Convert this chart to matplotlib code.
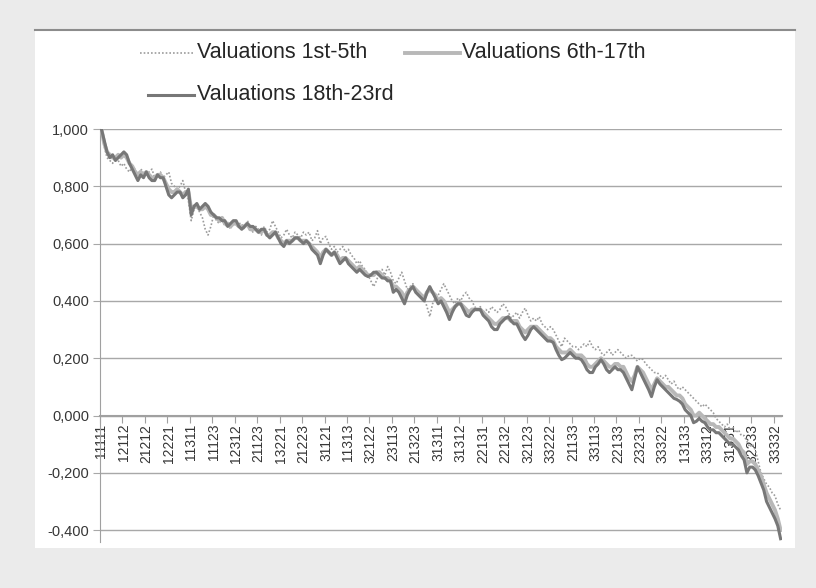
import matplotlib
matplotlib.use('Agg')
import matplotlib.pyplot as plt
from matplotlib.lines import Line2D
from matplotlib.patches import Rectangle
import numpy as np

plt.rcParams['font.family'] = ['Liberation Sans', 'DejaVu Sans']

# series values, one per category (243 combinations, sorted)
val_1_5 = [
    1.00, 0.94, 0.90, 0.89, 0.88, 0.90, 0.89, 0.87, 0.88, 0.86,
    0.85, 0.87, 0.86, 0.84, 0.86, 0.85, 0.84, 0.85, 0.86, 0.83,
    0.84, 0.85, 0.83, 0.84, 0.85, 0.81, 0.80, 0.79, 0.80, 0.82,
    0.78, 0.75, 0.68, 0.72, 0.73, 0.71, 0.69, 0.65, 0.63, 0.66,
    0.70, 0.68, 0.67, 0.69, 0.66, 0.67, 0.65, 0.68, 0.66, 0.67,
    0.67, 0.65, 0.68, 0.66, 0.64, 0.66, 0.65, 0.63, 0.66, 0.64,
    0.65, 0.68, 0.66, 0.64, 0.62, 0.63, 0.65, 0.63, 0.62, 0.64,
    0.63, 0.62, 0.64, 0.63, 0.64, 0.61, 0.62, 0.645, 0.60, 0.62,
    0.625, 0.60, 0.58, 0.59, 0.57, 0.58, 0.59, 0.57, 0.58, 0.56,
    0.55, 0.53, 0.54, 0.52, 0.51, 0.49, 0.47, 0.45, 0.47, 0.50,
    0.51, 0.49, 0.52, 0.50, 0.47, 0.46, 0.48, 0.50, 0.47, 0.44,
    0.45, 0.46, 0.44, 0.43, 0.42, 0.41, 0.38, 0.345, 0.39, 0.41,
    0.42, 0.44, 0.46, 0.44, 0.42, 0.40, 0.39, 0.41, 0.40, 0.42,
    0.43, 0.41, 0.40, 0.38, 0.37, 0.38, 0.36, 0.37, 0.36, 0.38,
    0.37, 0.36, 0.37, 0.39, 0.38, 0.36, 0.34, 0.35, 0.36, 0.34,
    0.36, 0.375, 0.35, 0.33, 0.34, 0.33, 0.345, 0.32, 0.31, 0.30,
    0.31, 0.30, 0.28, 0.26, 0.24, 0.27, 0.26, 0.25, 0.24, 0.24,
    0.23, 0.24, 0.25, 0.24, 0.26, 0.24, 0.23, 0.24, 0.22, 0.21,
    0.22, 0.23, 0.21, 0.22, 0.23, 0.22, 0.21, 0.20, 0.21, 0.21,
    0.20, 0.19, 0.20, 0.195, 0.18, 0.17, 0.16, 0.15, 0.15, 0.14,
    0.13, 0.14, 0.125, 0.11, 0.12, 0.10, 0.09, 0.10, 0.09, 0.08,
    0.07, 0.06, 0.05, 0.04, 0.03, 0.04, 0.03, 0.02, 0.01, -0.01,
    -0.02, -0.03, -0.04, -0.03, -0.05, -0.04, -0.06, -0.05, -0.07, -0.07,
    -0.09, -0.11, -0.10, -0.12, -0.16, -0.20, -0.22, -0.24, -0.25, -0.27,
    -0.28, -0.31, -0.33,
]

val_6_17 = [
    1.00, 0.95, 0.92, 0.91, 0.90, 0.90, 0.91, 0.90, 0.91, 0.90,
    0.88, 0.87, 0.85, 0.84, 0.85, 0.84, 0.85, 0.84, 0.83, 0.83,
    0.84, 0.84, 0.83, 0.81, 0.79, 0.78, 0.78, 0.79, 0.78, 0.77,
    0.78, 0.78, 0.72, 0.73, 0.73, 0.72, 0.72, 0.73, 0.72, 0.70,
    0.70, 0.69, 0.68, 0.69, 0.67, 0.67, 0.66, 0.67, 0.67, 0.66,
    0.66, 0.66, 0.67, 0.65, 0.65, 0.65, 0.64, 0.64, 0.65, 0.63,
    0.63, 0.64, 0.64, 0.62, 0.61, 0.60, 0.61, 0.61, 0.61, 0.62,
    0.62, 0.61, 0.61, 0.61, 0.60, 0.59, 0.58, 0.57, 0.55, 0.57,
    0.58, 0.57, 0.56, 0.57, 0.56, 0.54, 0.55, 0.55, 0.54, 0.53,
    0.52, 0.51, 0.52, 0.51, 0.50, 0.49, 0.49, 0.49, 0.50, 0.50,
    0.49, 0.48, 0.48, 0.47, 0.45, 0.45, 0.44, 0.43, 0.41, 0.43,
    0.44, 0.45, 0.44, 0.43, 0.42, 0.41, 0.43, 0.44, 0.43, 0.42,
    0.40, 0.41, 0.40, 0.38, 0.36, 0.37, 0.38, 0.39, 0.39, 0.38,
    0.37, 0.36, 0.37, 0.37, 0.37, 0.37, 0.36, 0.35, 0.34, 0.33,
    0.32, 0.32, 0.33, 0.34, 0.34, 0.34, 0.33, 0.33, 0.33, 0.31,
    0.30, 0.29, 0.30, 0.31, 0.31, 0.31, 0.30, 0.29, 0.28, 0.27,
    0.27, 0.26, 0.24, 0.23, 0.22, 0.22, 0.22, 0.23, 0.22, 0.21,
    0.21, 0.21, 0.20, 0.18, 0.17, 0.17, 0.18, 0.19, 0.20, 0.19,
    0.18, 0.17, 0.17, 0.18, 0.18, 0.17, 0.17, 0.15, 0.13, 0.12,
    0.14, 0.17, 0.16, 0.15, 0.13, 0.11, 0.09, 0.11, 0.13, 0.12,
    0.11, 0.10, 0.10, 0.09, 0.08, 0.07, 0.07, 0.06, 0.04, 0.03,
    0.02, 0.00, 0.00, 0.01, 0.00, -0.01, -0.02, -0.03, -0.03, -0.04,
    -0.04, -0.05, -0.06, -0.07, -0.08, -0.08, -0.09, -0.10, -0.12, -0.13,
    -0.17, -0.16, -0.16, -0.17, -0.19, -0.21, -0.24, -0.27, -0.29, -0.31,
    -0.33, -0.36, -0.40,
]

val_18_23 = [
    1.00, 0.96, 0.92, 0.90, 0.91, 0.89, 0.90, 0.91, 0.92, 0.91,
    0.88, 0.86, 0.84, 0.82, 0.84, 0.83, 0.85, 0.83, 0.82, 0.82,
    0.84, 0.83, 0.83, 0.80, 0.77, 0.76, 0.77, 0.78, 0.78, 0.76,
    0.77, 0.79, 0.70, 0.73, 0.74, 0.72, 0.73, 0.74, 0.73, 0.71,
    0.70, 0.69, 0.69, 0.68, 0.68, 0.66, 0.67, 0.68, 0.68, 0.66,
    0.65, 0.66, 0.67, 0.66, 0.66, 0.65, 0.64, 0.65, 0.65, 0.63,
    0.62, 0.63, 0.64, 0.62, 0.60, 0.59, 0.61, 0.60, 0.61, 0.62,
    0.62, 0.61, 0.60, 0.61, 0.60, 0.58, 0.57, 0.56, 0.53, 0.56,
    0.58, 0.57, 0.56, 0.57, 0.55, 0.53, 0.54, 0.55, 0.53, 0.52,
    0.51, 0.50, 0.51, 0.50, 0.49, 0.485, 0.49, 0.50, 0.50, 0.49,
    0.48, 0.48, 0.47, 0.47, 0.43, 0.44, 0.43, 0.41, 0.39, 0.42,
    0.44, 0.45, 0.43, 0.42, 0.41, 0.40, 0.43, 0.45, 0.43, 0.41,
    0.39, 0.40, 0.38, 0.36, 0.335, 0.36, 0.38, 0.39, 0.39, 0.37,
    0.35, 0.345, 0.36, 0.37, 0.37, 0.37, 0.35, 0.34, 0.33, 0.31,
    0.30, 0.30, 0.32, 0.33, 0.34, 0.345, 0.33, 0.32, 0.32, 0.30,
    0.28, 0.265, 0.28, 0.30, 0.31, 0.30, 0.29, 0.28, 0.27, 0.26,
    0.26, 0.255, 0.23, 0.21, 0.195, 0.20, 0.21, 0.22, 0.21, 0.20,
    0.20, 0.195, 0.18, 0.16, 0.15, 0.15, 0.17, 0.18, 0.195, 0.18,
    0.16, 0.15, 0.16, 0.17, 0.16, 0.16, 0.15, 0.13, 0.11, 0.09,
    0.13, 0.17, 0.15, 0.13, 0.11, 0.09, 0.066, 0.10, 0.125, 0.11,
    0.10, 0.09, 0.08, 0.07, 0.06, 0.056, 0.05, 0.04, 0.02, 0.01,
    0.00, -0.025, -0.02, -0.01, -0.02, -0.025, -0.04, -0.05, -0.05, -0.06,
    -0.06, -0.07, -0.08, -0.09, -0.10, -0.10, -0.11, -0.12, -0.14, -0.155,
    -0.20, -0.18, -0.18, -0.19, -0.21, -0.235, -0.26, -0.30, -0.32, -0.34,
    -0.36, -0.385, -0.43,
]

# every 8th category is labelled
tick_labels = ['11111', '12112', '21212', '12221', '11311', '11123', '12312',
               '21123', '13221', '21223', '31121', '11313', '32122', '23113',
               '21323', '31311', '31312', '22131', '22132', '32123', '33222',
               '21133', '33113', '22133', '23231', '33322', '13133', '33312',
               '31331', '32233', '33332']
label_step = 8

y_ticks = [-0.4, -0.2, 0.0, 0.2, 0.4, 0.6, 0.8, 1.0]
y_labels = ['-0,400', '-0,200', '0,000', '0,200', '0,400', '0,600', '0,800', '1,000']

W, H = 816, 588
fig = plt.figure(figsize=(W / 100, H / 100), dpi=100, facecolor='#ebebeb')

# white chart panel and the dark rule at its top
fig.patches.append(Rectangle((35 / W, 1 - 548 / H), 760 / W, 518 / H,
                             transform=fig.transFigure, facecolor='white',
                             edgecolor='none', zorder=-10))
fig.lines.append(Line2D([35 / W, 795 / W], [1 - 29.5 / H] * 2,
                        transform=fig.transFigure, color='#8c8c8c', lw=1.5))

ax = fig.add_axes([100 / W, 1 - 541.6 / H, 682 / W, 412.6 / H], zorder=5)
ax.set_facecolor('none')

n = len(val_18_23)
x = np.arange(n)
c1, c2, c3 = '#9c9c9c', '#b8b8b8', '#777777'
ax.plot(x, val_1_5, color=c1, lw=1.2, ls=(0, (1, 1.2)), zorder=3)
ax.plot(x, val_6_17, color=c2, lw=2.8, zorder=4)
ax.plot(x, val_18_23, color=c3, lw=2.2, zorder=5)

ax.set_xlim(-0.5, n - 0.5)
ax.set_ylim(-0.44, 1.0)

ax.set_yticks(y_ticks)
ax.set_yticklabels(y_labels)
ax.yaxis.grid(True, color='#a8a8a8', lw=1.0)
ax.set_axisbelow(True)
ax.tick_params(axis='y', length=5, color='#a8a8a8', labelsize=10.5,
               labelcolor='#363636', pad=3)

# x axis crosses at zero, labels on categories, tick marks between
ax.spines['bottom'].set_position(('data', 0))
ax.spines['bottom'].set_color('#a0a0a0')
ax.spines['bottom'].set_linewidth(1.5)
ax.spines['left'].set_color('#a0a0a0')
ax.spines['top'].set_visible(False)
ax.spines['right'].set_visible(False)

ax.set_xticks(np.arange(0, n, label_step) - 0.5)
ax.set_xticklabels([])
ax.tick_params(axis='x', which='major', length=5, color='#a0a0a0')
ax.set_xticks(np.arange(0, n, label_step)[:len(tick_labels)], minor=True)
ax.set_xticklabels(tick_labels, minor=True, rotation=90)
ax.tick_params(axis='x', which='minor', length=0, labelsize=10,
               labelcolor='#363636', pad=6)

# legend drawn by hand to match the layout
leg = [
    (140, 193, 53, 197, 'Valuations 1st-5th', c1, 1.2, (0, (1, 1.2))),
    (405, 460, 53, 462, 'Valuations 6th-17th', c2, 2.8, '-'),
    (148, 194, 95, 197, 'Valuations 18th-23rd', c3, 2.2, '-'),
]
for x0, x1, yy, tx, label, col, lw, ls in leg:
    fig.lines.append(Line2D([x0 / W, x1 / W], [1 - yy / H] * 2,
                            transform=fig.transFigure, color=col, lw=lw, ls=ls))
    fig.text(tx / W, 1 - yy / H, label, fontsize=15.5, color='#262626',
             ha='left', va='center')

fig.savefig('out.png', dpi=100, facecolor=fig.get_facecolor())
